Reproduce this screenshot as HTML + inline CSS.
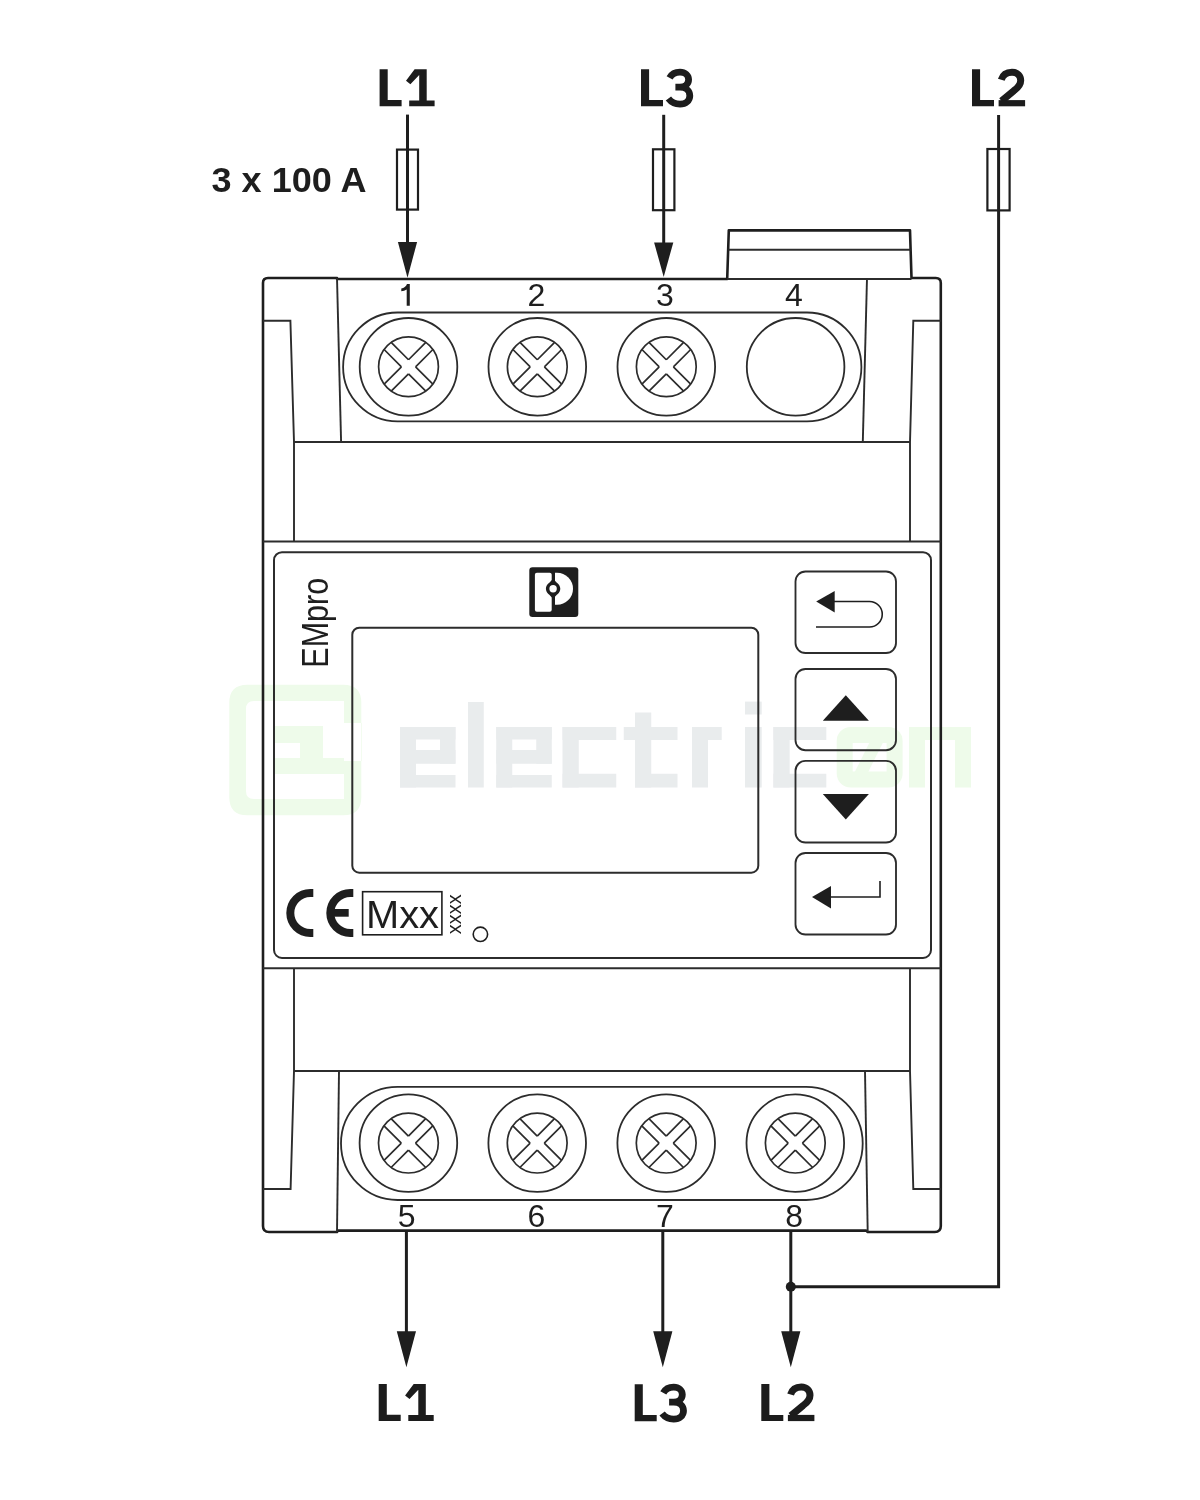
<!DOCTYPE html>
<html><head><meta charset="utf-8"><style>
html,body{margin:0;padding:0;background:#fff;}
svg{display:block;will-change:transform;}
</style></head><body>
<svg width="1200" height="1500" viewBox="0 0 1200 1500">
<rect width="1200" height="1500" fill="#fff"/>
<g><rect x="400" y="727" width="16.00" height="60.50" fill="#e9eced"/><rect x="400" y="727" width="55.50" height="12.50" fill="#e9eced"/><rect x="440" y="727" width="15.50" height="36.75" fill="#e9eced"/><rect x="400" y="750" width="55.50" height="13.75" fill="#e9eced"/><rect x="400" y="775" width="55.50" height="12.50" fill="#e9eced"/><rect x="468" y="702" width="15.75" height="85.50" fill="#e9eced"/><rect x="496.25" y="727" width="16.00" height="60.50" fill="#e9eced"/><rect x="496.25" y="727" width="55.50" height="12.50" fill="#e9eced"/><rect x="536.25" y="727" width="15.50" height="36.75" fill="#e9eced"/><rect x="496.25" y="750" width="55.50" height="13.75" fill="#e9eced"/><rect x="496.25" y="775" width="55.50" height="12.50" fill="#e9eced"/><rect x="562.5" y="727" width="16.25" height="60.50" fill="#e9eced"/><rect x="562.5" y="727" width="53.75" height="13.00" fill="#e9eced"/><rect x="562.5" y="773.75" width="53.75" height="13.75" fill="#e9eced"/><rect x="635" y="712.5" width="16.25" height="75.00" fill="#e9eced"/><rect x="623.75" y="727" width="53.75" height="13.00" fill="#e9eced"/><rect x="635" y="773.75" width="42.50" height="13.75" fill="#e9eced"/><rect x="692" y="727" width="16.00" height="60.50" fill="#e9eced"/><rect x="692" y="727" width="29.70" height="13.00" fill="#e9eced"/><rect x="745" y="701.6" width="16.70" height="12.90" fill="#e9eced"/><rect x="745" y="727" width="16.70" height="60.50" fill="#e9eced"/><rect x="773.4" y="727" width="16.25" height="60.50" fill="#e9eced"/><rect x="773.4" y="727" width="52.90" height="13.00" fill="#e9eced"/><rect x="773.4" y="773.75" width="52.90" height="13.75" fill="#e9eced"/><rect x="844.7" y="735" width="49.9" height="44.5" rx="6" fill="none" stroke="#eefbea" stroke-width="16"/><path d="M880,735 L858,779" stroke="#eefbea" stroke-width="12"/><rect x="909" y="727" width="16.00" height="60.50" fill="#eefbea"/><rect x="909" y="727" width="62.00" height="13.00" fill="#eefbea"/><rect x="955" y="727" width="16.00" height="60.50" fill="#eefbea"/><path fill-rule="evenodd" fill="#eefbea" d="M247,684.7 H343.3 Q361.3,684.7 361.3,702.7 V797.3 Q361.3,815.3 343.3,815.3 H247.3 Q229.3,815.3 229.3,797.3 V702.7 Q229.3,684.7 247.3,684.7 Z M254,701 H344 V723 H362 V761 H344 V799 H254 Q246,799 246,791 V709 Q246,701 254,701 Z"/><rect x="275" y="726" width="48.00" height="17.00" fill="#eefbea"/><rect x="275" y="758" width="69.00" height="16.00" fill="#eefbea"/><rect x="300" y="726" width="23.00" height="48.00" fill="#eefbea"/></g>
<path d="M337,278 H268 Q263,278 263,283 V1226 Q263,1232 269,1232 H337 L338,1230.6 H866 L867.7,1232 H934.8 Q940.8,1232 940.8,1226 V283 Q940.8,278 935.8,278 H911.5 L910,230.4 H728.8 L727.2,279 H337 Z" fill="none" stroke="#1e1e1e" stroke-width="2.6" stroke-linejoin="round"/>
<path d="M728.5,249.7 H910.6" fill="none" stroke="#2c2c2c" stroke-width="1.9"/>
<path d="M727.2,279 H911.5" fill="none" stroke="#2c2c2c" stroke-width="1.9"/>
<path d="M337,278 L341.1,442" fill="none" stroke="#2c2c2c" stroke-width="1.9"/>
<path d="M867,278 L862.8,442" fill="none" stroke="#2c2c2c" stroke-width="1.9"/>
<path d="M263,320.8 H290.4 L294,442 V541.5" fill="none" stroke="#2c2c2c" stroke-width="1.9"/>
<path d="M940.8,320.8 H913.3 L910,442 V541.5" fill="none" stroke="#2c2c2c" stroke-width="1.9"/>
<path d="M294,442 H910" fill="none" stroke="#2c2c2c" stroke-width="1.9"/>
<path d="M263,541.5 H940.8" fill="none" stroke="#2c2c2c" stroke-width="1.9"/>
<path d="M263,968.2 H940.8" fill="none" stroke="#2c2c2c" stroke-width="1.9"/>
<path d="M294,1071 H910" fill="none" stroke="#2c2c2c" stroke-width="1.9"/>
<path d="M294,968.2 V1071 L290.6,1189 H263" fill="none" stroke="#2c2c2c" stroke-width="1.9"/>
<path d="M910,968.2 V1071 L913.3,1189 H940.8" fill="none" stroke="#2c2c2c" stroke-width="1.9"/>
<path d="M339,1071 L337,1232" fill="none" stroke="#2c2c2c" stroke-width="1.9"/>
<path d="M865,1071 L867.7,1232" fill="none" stroke="#2c2c2c" stroke-width="1.9"/>
<rect x="343.1" y="312.5" width="518.3" height="108.8" rx="54.4" fill="none" stroke="#2c2c2c" stroke-width="1.8"/>
<rect x="341" y="1086.8" width="521.7" height="113.2" rx="56.6" fill="none" stroke="#2c2c2c" stroke-width="1.8"/>
<circle cx="408.5" cy="366.8" r="48.8" fill="none" stroke="#2c2c2c" stroke-width="1.8"/><circle cx="408.5" cy="366.8" r="29.9" fill="none" stroke="#2c2c2c" stroke-width="1.7"/><path d="M408.50,373.87 L425.81,391.18 M415.57,366.80 L432.88,384.11 M401.43,366.80 L384.12,384.11 M408.50,373.87 L391.19,391.18 M408.50,359.73 L391.19,342.42 M401.43,366.80 L384.12,349.49 M415.57,366.80 L432.88,349.49 M408.50,359.73 L425.81,342.42 " fill="none" stroke="#2c2c2c" stroke-width="1.7"/>
<circle cx="537.3" cy="366.8" r="48.8" fill="none" stroke="#2c2c2c" stroke-width="1.8"/><circle cx="537.3" cy="366.8" r="29.9" fill="none" stroke="#2c2c2c" stroke-width="1.7"/><path d="M537.30,373.87 L554.61,391.18 M544.37,366.80 L561.68,384.11 M530.23,366.80 L512.92,384.11 M537.30,373.87 L519.99,391.18 M537.30,359.73 L519.99,342.42 M530.23,366.80 L512.92,349.49 M544.37,366.80 L561.68,349.49 M537.30,359.73 L554.61,342.42 " fill="none" stroke="#2c2c2c" stroke-width="1.7"/>
<circle cx="666.3" cy="366.8" r="48.8" fill="none" stroke="#2c2c2c" stroke-width="1.8"/><circle cx="666.3" cy="366.8" r="29.9" fill="none" stroke="#2c2c2c" stroke-width="1.7"/><path d="M666.30,373.87 L683.61,391.18 M673.37,366.80 L690.68,384.11 M659.23,366.80 L641.92,384.11 M666.30,373.87 L648.99,391.18 M666.30,359.73 L648.99,342.42 M659.23,366.80 L641.92,349.49 M673.37,366.80 L690.68,349.49 M666.30,359.73 L683.61,342.42 " fill="none" stroke="#2c2c2c" stroke-width="1.7"/>
<circle cx="795.6" cy="366.8" r="48.8" fill="none" stroke="#2c2c2c" stroke-width="1.8"/>
<circle cx="408.4" cy="1143.1" r="48.8" fill="none" stroke="#2c2c2c" stroke-width="1.8"/><circle cx="408.4" cy="1143.1" r="29.9" fill="none" stroke="#2c2c2c" stroke-width="1.7"/><path d="M408.40,1150.17 L425.71,1167.48 M415.47,1143.10 L432.78,1160.41 M401.33,1143.10 L384.02,1160.41 M408.40,1150.17 L391.09,1167.48 M408.40,1136.03 L391.09,1118.72 M401.33,1143.10 L384.02,1125.79 M415.47,1143.10 L432.78,1125.79 M408.40,1136.03 L425.71,1118.72 " fill="none" stroke="#2c2c2c" stroke-width="1.7"/>
<circle cx="537.2" cy="1143.1" r="48.8" fill="none" stroke="#2c2c2c" stroke-width="1.8"/><circle cx="537.2" cy="1143.1" r="29.9" fill="none" stroke="#2c2c2c" stroke-width="1.7"/><path d="M537.20,1150.17 L554.51,1167.48 M544.27,1143.10 L561.58,1160.41 M530.13,1143.10 L512.82,1160.41 M537.20,1150.17 L519.89,1167.48 M537.20,1136.03 L519.89,1118.72 M530.13,1143.10 L512.82,1125.79 M544.27,1143.10 L561.58,1125.79 M537.20,1136.03 L554.51,1118.72 " fill="none" stroke="#2c2c2c" stroke-width="1.7"/>
<circle cx="666.2" cy="1143.1" r="48.8" fill="none" stroke="#2c2c2c" stroke-width="1.8"/><circle cx="666.2" cy="1143.1" r="29.9" fill="none" stroke="#2c2c2c" stroke-width="1.7"/><path d="M666.20,1150.17 L683.51,1167.48 M673.27,1143.10 L690.58,1160.41 M659.13,1143.10 L641.82,1160.41 M666.20,1150.17 L648.89,1167.48 M666.20,1136.03 L648.89,1118.72 M659.13,1143.10 L641.82,1125.79 M673.27,1143.10 L690.58,1125.79 M666.20,1136.03 L683.51,1118.72 " fill="none" stroke="#2c2c2c" stroke-width="1.7"/>
<circle cx="795.3" cy="1143.1" r="48.8" fill="none" stroke="#2c2c2c" stroke-width="1.8"/><circle cx="795.3" cy="1143.1" r="29.9" fill="none" stroke="#2c2c2c" stroke-width="1.7"/><path d="M795.30,1150.17 L812.61,1167.48 M802.37,1143.10 L819.68,1160.41 M788.23,1143.10 L770.92,1160.41 M795.30,1150.17 L777.99,1167.48 M795.30,1136.03 L777.99,1118.72 M788.23,1143.10 L770.92,1125.79 M802.37,1143.10 L819.68,1125.79 M795.30,1136.03 L812.61,1118.72 " fill="none" stroke="#2c2c2c" stroke-width="1.7"/>
<path d="M407,284 H409.8 V305.7 H406.7 V289.6 C405,290.6 403.2,291.2 401.3,291.3 V288.6 C404,288.2 406,286.6 407,284 Z" fill="#1e1e1e"/>
<text x="536.5" y="305.9" text-anchor="middle" font-family="Liberation Sans" font-size="32" fill="#1e1e1e">2</text>
<text x="665" y="305.9" text-anchor="middle" font-family="Liberation Sans" font-size="32" fill="#1e1e1e">3</text>
<text x="794" y="305.9" text-anchor="middle" font-family="Liberation Sans" font-size="32" fill="#1e1e1e">4</text>
<text x="406.7" y="1226.5" text-anchor="middle" font-family="Liberation Sans" font-size="32" fill="#1e1e1e">5</text>
<text x="536.5" y="1226.5" text-anchor="middle" font-family="Liberation Sans" font-size="32" fill="#1e1e1e">6</text>
<text x="665" y="1226.5" text-anchor="middle" font-family="Liberation Sans" font-size="32" fill="#1e1e1e">7</text>
<text x="794.2" y="1226.5" text-anchor="middle" font-family="Liberation Sans" font-size="32" fill="#1e1e1e">8</text>
<rect x="274" y="552.2" width="657" height="405.8" rx="8" fill="none" stroke="#2c2c2c" stroke-width="2"/>
<rect x="352.3" y="627.7" width="406" height="245" rx="7" fill="none" stroke="#2c2c2c" stroke-width="2"/>
<rect x="795.5" y="571.5" width="100.5" height="81.5" rx="10" fill="none" stroke="#2c2c2c" stroke-width="1.85"/>
<rect x="795.5" y="669" width="100.5" height="81.2" rx="10" fill="none" stroke="#2c2c2c" stroke-width="1.85"/>
<rect x="795.5" y="760.8" width="100.5" height="81.7" rx="10" fill="none" stroke="#2c2c2c" stroke-width="1.85"/>
<rect x="795.5" y="853" width="100.5" height="81.5" rx="10" fill="none" stroke="#2c2c2c" stroke-width="1.85"/>
<path d="M816.2,601.5 L834.7,591 V612.5 Z" fill="#1e1e1e"/>
<path d="M833,601.5 H869.5 A12.75,12.75 0 0 1 869.5,627 H816" fill="none" stroke="#1e1e1e" stroke-width="1.6"/>
<path d="M845.8,695.2 L868.9,720.8 H822.8 Z" fill="#1e1e1e"/>
<path d="M822.8,794.1 H868.9 L845.8,819.4 Z" fill="#1e1e1e"/>
<path d="M812,897 L831,886 V908.5 Z" fill="#1e1e1e"/>
<path d="M829,897 H880 V881" fill="none" stroke="#1e1e1e" stroke-width="1.6"/>
<rect x="529.3" y="567.3" width="49" height="49.7" rx="3.2" fill="#1e1e1e"/>
<rect x="534.9" y="572.7" width="16.8" height="39" rx="2" fill="#fff"/>
<path d="M555,572.7 H557 A16,16 0 0 1 557,604.7 H555 Z" fill="#fff"/>
<path d="M551.5,580.2 H554.7 C555.6,582.4 560.3,584 560.3,588.7 C560.3,593.4 555.6,595 554.7,597.2 H551.5 C550.6,595 545.9,593.4 545.9,588.7 C545.9,584 550.6,582.4 551.5,580.2 Z" fill="#1e1e1e"/>
<circle cx="553.1" cy="588.7" r="3.7" fill="#fff"/>
<text transform="translate(328.2,667.7) rotate(-90)" font-family="Liberation Sans" font-size="36" fill="#1e1e1e" textLength="89.9" lengthAdjust="spacingAndGlyphs">EMpro</text>
<path d="M313.3,889 H310.3 A24,24 0 0 0 310.3,937 H313.3 V929 H310.3 A16,16 0 0 1 310.3,897 H313.3 Z" fill="#1e1e1e"/>
<path d="M353.3,889 H350.3 A24,24 0 0 0 350.3,937 H353.3 V929 H350.3 A16,16 0 0 1 350.3,897 H353.3 Z" fill="#1e1e1e"/><rect x="333.3" y="909" width="15.4" height="7.7" fill="#1e1e1e"/>
<rect x="362.6" y="891.7" width="79.3" height="43.1" fill="none" stroke="#1e1e1e" stroke-width="1.6"/>
<text x="366" y="928.1" font-family="Liberation Sans" font-size="38" fill="#1e1e1e" textLength="73" lengthAdjust="spacingAndGlyphs">Mxx</text>
<text transform="translate(461.2,934.3) rotate(-90)" font-family="Liberation Sans" font-size="20" fill="#1e1e1e" textLength="40" lengthAdjust="spacingAndGlyphs">xxxx</text>
<circle cx="480.4" cy="934.3" r="7.2" fill="none" stroke="#1e1e1e" stroke-width="1.6"/>
<path d="M407.5,114.6 V245" stroke="#1e1e1e" stroke-width="3"/>
<path d="M397.9,242 H417.1 L407.5,277.7 Z" fill="#1e1e1e"/>
<rect x="397" y="149.6" width="21.0" height="60.0" fill="none" stroke="#1e1e1e" stroke-width="2.2"/>
<path d="M663.7,114.8 V245" stroke="#1e1e1e" stroke-width="3"/>
<path d="M654.1,242.4 H673.3000000000001 L663.7,277 Z" fill="#1e1e1e"/>
<rect x="653" y="149.3" width="21.4" height="60.9" fill="none" stroke="#1e1e1e" stroke-width="2.2"/>
<path d="M998.6,115 V1286.8 H790.8" fill="none" stroke="#1e1e1e" stroke-width="3"/>
<rect x="987.4" y="149" width="22.2" height="61.4" fill="none" stroke="#1e1e1e" stroke-width="2.2"/>
<path d="M406.4,1231 V1334" stroke="#1e1e1e" stroke-width="3"/>
<path d="M396.79999999999995,1331.2 H416.0 L406.4,1367.3 Z" fill="#1e1e1e"/>
<path d="M662.8,1231 V1334" stroke="#1e1e1e" stroke-width="3"/>
<path d="M653.1999999999999,1331.2 H672.4 L662.8,1367.3 Z" fill="#1e1e1e"/>
<path d="M790.8,1231 V1334" stroke="#1e1e1e" stroke-width="3"/>
<path d="M781.1999999999999,1331.2 H800.4 L790.8,1367.3 Z" fill="#1e1e1e"/>
<circle cx="790.8" cy="1286.8" r="5" fill="#1e1e1e"/>
<g transform="translate(379.6,69.2)"><path d="M0,0 H8.1 V30.9 H22 V37.1 H0 Z" fill="#1c1c1c"/><path d="M35,0 H47.1 V31.2 H55 V37.1 H29.6 V31.2 H39.6 V5.8 L30.8,15 L26.4,11.6 Z" fill="#1c1c1c"/></g>
<g transform="translate(641,69.2)"><path d="M0,0 H8.1 V30.9 H22 V37.1 H0 Z" fill="#1c1c1c"/><path d="M28.6,8.6 C30.8,4.6 34.6,2.9 39,2.9 C44,2.9 47.6,6 47.6,10.4 C47.6,14.8 44,18 39,18 H34.4 M39,18 C45,18 48.8,21.8 48.8,26.5 C48.8,31.3 44.8,35 39,35 C34.3,35 30.3,33 27.4,29.3" fill="none" stroke="#1c1c1c" stroke-width="6.8"/></g>
<g transform="translate(972,69.2)"><path d="M0,0 H8.1 V30.9 H22 V37.1 H0 Z" fill="#1c1c1c"/><path d="M29.3,10.6 C30.8,5.6 34.8,3 40,3 C45.5,3 48.7,6.8 48.7,11.3 C48.7,15.3 46.4,18.3 41.8,21.5 L29.5,31.8" fill="none" stroke="#1c1c1c" stroke-width="7"/><rect x="26.6" y="30.9" width="26.5" height="6.2" fill="#1c1c1c"/></g>
<g transform="translate(378.7,1383.9)"><path d="M0,0 H8.1 V30.9 H22 V37.1 H0 Z" fill="#1c1c1c"/><path d="M35,0 H47.1 V31.2 H55 V37.1 H29.6 V31.2 H39.6 V5.8 L30.8,15 L26.4,11.6 Z" fill="#1c1c1c"/></g>
<g transform="translate(634.7,1384.2)"><path d="M0,0 H8.1 V30.9 H22 V37.1 H0 Z" fill="#1c1c1c"/><path d="M28.6,8.6 C30.8,4.6 34.6,2.9 39,2.9 C44,2.9 47.6,6 47.6,10.4 C47.6,14.8 44,18 39,18 H34.4 M39,18 C45,18 48.8,21.8 48.8,26.5 C48.8,31.3 44.8,35 39,35 C34.3,35 30.3,33 27.4,29.3" fill="none" stroke="#1c1c1c" stroke-width="6.8"/></g>
<g transform="translate(761.3,1384)"><path d="M0,0 H8.1 V30.9 H22 V37.1 H0 Z" fill="#1c1c1c"/><path d="M29.3,10.6 C30.8,5.6 34.8,3 40,3 C45.5,3 48.7,6.8 48.7,11.3 C48.7,15.3 46.4,18.3 41.8,21.5 L29.5,31.8" fill="none" stroke="#1c1c1c" stroke-width="7"/><rect x="26.6" y="30.9" width="26.5" height="6.2" fill="#1c1c1c"/></g>
<text x="211.5" y="191.7" font-family="Liberation Sans" font-weight="bold" font-size="35.5" fill="#1e1e1e" textLength="155.0" lengthAdjust="spacingAndGlyphs">3 x 100 A</text>
</svg>
</body></html>
